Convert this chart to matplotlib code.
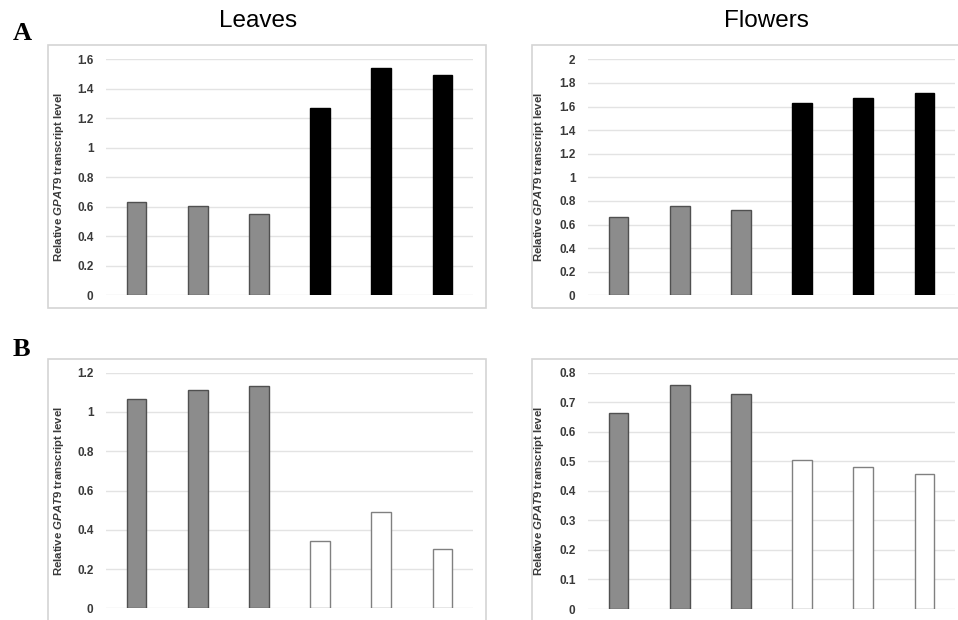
import matplotlib
matplotlib.use("Agg")
from matplotlib import pyplot as plt
from matplotlib.patches import Rectangle

plt.rcParams["font.family"] = ["Liberation Sans", "DejaVu Sans"]
plt.rcParams["mathtext.fontset"] = "custom"
plt.rcParams["mathtext.rm"] = "Liberation Sans:bold"
plt.rcParams["mathtext.it"] = "Liberation Sans:italic:bold"

# Data (six samples per panel)
leaves_a = [0.635, 0.605, 0.549, 1.268, 1.543, 1.494]
flowers_a = [0.661, 0.759, 0.725, 1.627, 1.675, 1.714]
leaves_b = [1.068, 1.110, 1.132, 0.341, 0.489, 0.304]
flowers_b = [0.662, 0.759, 0.728, 0.504, 0.480, 0.458]

colors_a = ["#8c8c8c"] * 3 + ["#000000"] * 3
colors_b = ["#8c8c8c"] * 3 + ["#ffffff"] * 3
edges_a = ["#505050"] * 3 + ["#000000"] * 3
edges_b = ["#505050"] * 3 + ["#808080"] * 3

ticks_leaves_a = [0, 0.2, 0.4, 0.6, 0.8, 1, 1.2, 1.4, 1.6]
ticks_flowers_a = [0, 0.2, 0.4, 0.6, 0.8, 1, 1.2, 1.4, 1.6, 1.8, 2]
ticks_leaves_b = [0, 0.2, 0.4, 0.6, 0.8, 1, 1.2]
ticks_flowers_b = [0, 0.1, 0.2, 0.3, 0.4, 0.5, 0.6, 0.7, 0.8]

W, H = 958, 620
fig = plt.figure(figsize=(W / 100, H / 100), dpi=100)


def px_axes(x0, y0, x1, y1):
    # pixel box (top-left origin) -> figure axes
    return fig.add_axes([x0 / W, 1 - y1 / H, (x1 - x0) / W, (y1 - y0) / H])


def frame(x0, y0, x1, y1):
    fig.patches.append(Rectangle((x0 / W, 1 - y1 / H), (x1 - x0) / W, (y1 - y0) / H,
                                 transform=fig.transFigure, fill=False,
                                 edgecolor="#d4d4d4", linewidth=1.2))


def panel(box, values, ticks, colors, edges, label_x):
    ax = px_axes(*box)
    xs = list(range(len(values)))
    ax.bar(xs, values, width=0.32, color=colors, edgecolor=edges, linewidth=1.0, zorder=3)
    ax.set_xlim(-0.5, len(values) - 0.5)
    ax.set_ylim(0, ticks[-1])
    ax.set_yticks(ticks)
    ax.set_yticklabels([f"{t:g}" for t in ticks], fontsize=8.5, fontweight="bold",
                       color="#3a3a3a")
    ax.set_xticks([])
    ax.tick_params(axis="y", length=0, pad=9)
    for s in ax.spines.values():
        s.set_visible(False)
    ax.grid(axis="y", color="#e3e3e3", linewidth=1.0, zorder=0)
    ax.set_axisbelow(True)
    ax.set_ylabel(r"Relative $\mathit{GPAT9}$ transcript level", fontsize=8.2,
                  fontweight="bold", color="#3a3a3a")
    ax.yaxis.set_label_coords((label_x - box[0]) / (box[2] - box[0]), 0.5)
    return ax


frame(48, 45, 486, 308)
frame(532, 45, 962, 308)
frame(48, 359, 486, 625)
frame(532, 359, 962, 625)

panel((106, 59.3, 473, 295.3), leaves_a, ticks_leaves_a, colors_a, edges_a, 66)
panel((588, 59.3, 955, 295.3), flowers_a, ticks_flowers_a, colors_a, edges_a, 546)
panel((106, 372.7, 473, 608.3), leaves_b, ticks_leaves_b, colors_b, edges_b, 66)
panel((588, 372.7, 955, 609), flowers_b, ticks_flowers_b, colors_b, edges_b, 546)

fig.text(258 / W, 1 - 21 / H, "Leaves", fontsize=17.5, ha="center", va="center")
fig.text(766 / W, 1 - 21 / H, "Flowers", fontsize=17.5, ha="center", va="center")
fig.text(22 / W, 1 - 33 / H, "A", fontsize=19, fontweight="bold",
         family=["Liberation Serif", "DejaVu Serif"], ha="center", va="center")
fig.text(21 / W, 1 - 349 / H, "B", fontsize=19, fontweight="bold",
         family=["Liberation Serif", "DejaVu Serif"], ha="center", va="center")

fig.savefig("out.png", dpi=100)
